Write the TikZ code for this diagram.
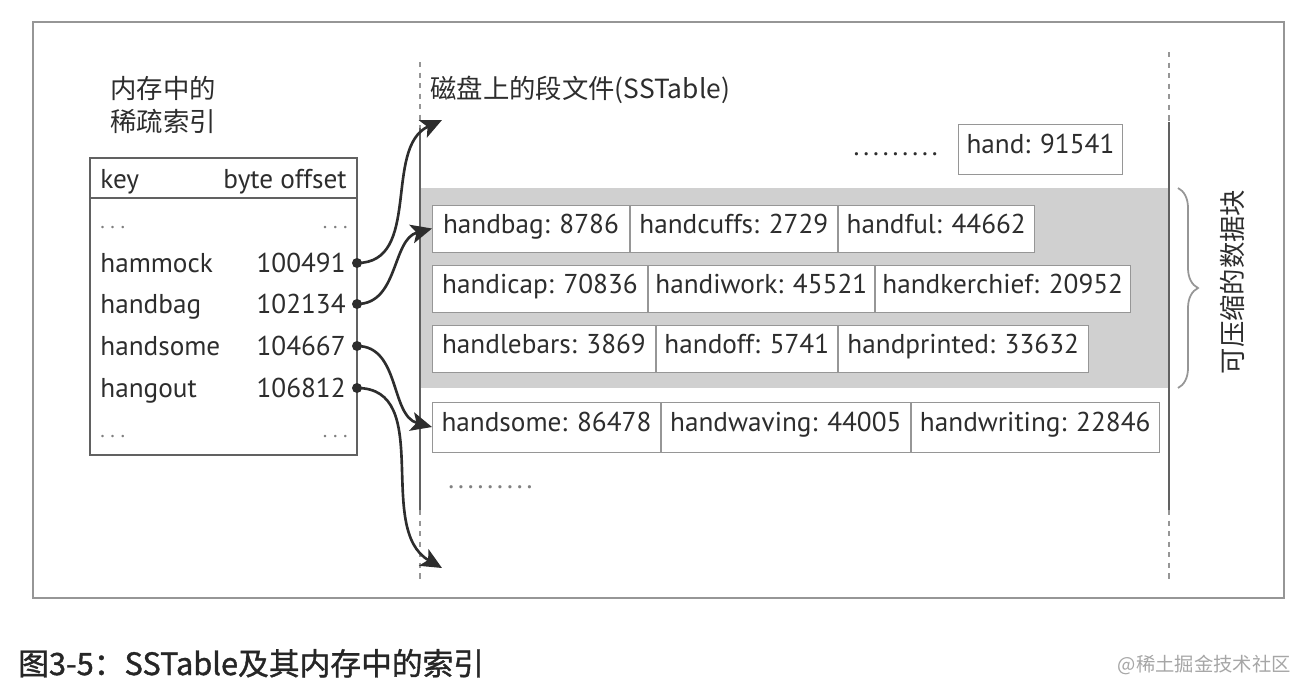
\documentclass[tikz,border=0pt]{standalone}
\usepackage{fontspec}
\setmainfont{PT Sans}
\newfontfamily\cjk{Noto Sans CJK SC}
\newfontfamily\cjkcap{Noto Sans CJK SC}[FakeBold=1.2]
\usetikzlibrary{arrows.meta,positioning,decorations.pathreplacing}
\definecolor{ink}{RGB}{45,45,45}
\definecolor{blockgray}{RGB}{208,208,208}
\definecolor{rulegray}{RGB}{150,150,150}

\begin{document}
\begin{tikzpicture}[
  txt/.style={font=\fontsize{15.5}{18}\selectfont, text=ink, inner sep=0pt},
  zh/.style={font=\fontsize{15}{18}\selectfont\cjk, text=ink, inner sep=0pt},
  cell/.style={txt, draw=rulegray, line width=0.5pt, fill=white, minimum height=0.94cm, text height=0.75em, text depth=0.2em},
  ptr/.style={-{Stealth[length=0.42cm,width=0.38cm,inset=0.1cm]}, ink, line width=1.5pt},
  pin/.style={circle, fill=ink, inner sep=0pt, minimum size=0.2cm},
  gap/.style={txt, font=\fontsize{15.5}{18}\selectfont\addfontfeature{LetterSpace=8}},
  more/.style={txt, text=gray, font=\fontsize{12}{14}\selectfont\addfontfeature{LetterSpace=20}}
]
\useasboundingbox (0,0) rectangle (26.32,-13.76);
\draw[rulegray, line width=1.2pt] (0.66,-0.44) rectangle (25.68,-11.96);

% compressed blocks
\fill[blockgray] (8.40,-3.76) rectangle (23.40,-7.76);
\node[cell, minimum width=3.94cm, anchor=west] (hb) at (8.64,-4.57) {handbag: 8786};
\node[cell, minimum width=4.14cm, right=0pt of hb] (hc) {handcuffs: 2729};
\node[cell, minimum width=3.92cm, right=0pt of hc] (hf) {handful: 44662};
\node[cell, minimum width=4.30cm, anchor=west] (hi) at (8.64,-5.77) {handicap: 70836};
\node[cell, minimum width=4.52cm, right=0pt of hi] (hw) {handiwork: 45521};
\node[cell, minimum width=5.10cm, right=0pt of hw] (hk) {handkerchief: 20952};
\node[cell, minimum width=4.46cm, anchor=west] (hl) at (8.64,-6.97) {handlebars: 3869};
\node[cell, minimum width=3.62cm, right=0pt of hl] (ho) {handoff: 5741};
\node[cell, minimum width=5.00cm, right=0pt of ho] (hp) {handprinted: 33632};
\node[cell, minimum width=4.56cm, minimum height=1.0cm, anchor=west] (hs) at (8.64,-8.54) {handsome: 86478};
\node[cell, minimum width=4.98cm, minimum height=1.0cm, right=0pt of hs] (hv) {handwaving: 44005};
\node[cell, minimum width=4.96cm, minimum height=1.0cm, right=0pt of hv] (hr) {handwriting: 22846};
\node[cell, minimum width=3.28cm, minimum height=1.0cm, anchor=west] (hand) at (19.16,-2.98) {hand: 91541};
\node[gap, anchor=base east] (gap1) at (18.76,-3.10) {.........};
\node[gap, anchor=base west, text=gray] (gap2) at (8.96,-9.76) {.........};

% segment file borders
\foreach \x/\top/\mid in {8.40/-1.24/-2.56, 23.38/-1.04/-2.44}{
    \draw[rulegray, dashed, line width=0.8pt] (\x,\top) -- (\x,\mid);
    \draw[ink!75, line width=0.8pt] (\x,\mid) -- (\x,-10.2);
    \draw[rulegray, dashed, line width=0.8pt] (\x,-10.2) -- (\x,-11.64);
}
\node[zh, anchor=base west] (disk) at (8.60,-1.96) {磁盘上的段文件(SSTable)};
\draw[decorate, decoration={brace, amplitude=0.4cm}, rulegray, line width=1pt] (23.56,-3.76) -- (23.56,-7.76);
\node[zh, rotate=90] (zip) at (24.64,-5.64) {可压缩的数据块};

% sparse index
\node[zh, anchor=base west] (mem1) at (2.2,-1.96) {内存中的};
\node[zh, anchor=base west] (mem2) at (2.2,-2.62) {稀疏索引};
\draw[ink!75, line width=0.9pt] (1.8,-3.16) rectangle (7.14,-9.10);
\draw[ink!75, line width=0.9pt] (1.8,-3.96) -- (7.14,-3.96);
\node[txt, anchor=base west] (key) at (2.0,-3.76) {key};
\node[txt, anchor=base east] (off) at (6.94,-3.76) {byte offset};
\foreach \y in {-4.56,-8.74}{
    \node[more, anchor=base west] at (2.0,\y) {...};
    \node[more, anchor=base east] at (6.96,\y) {...};
}
\foreach \k/\o/\y in {hammock/100491/-5.26, handbag/102134/-6.08, handsome/104667/-6.92, hangout/106812/-7.76}{
    \node[txt, anchor=base west] (k\o) at (2.0,\y-0.18) {\k};
    \node[txt, anchor=base east] (o\o) at (6.92,\y-0.18) {\o};
    \node[pin] (p\o) at (7.14,\y) {};
}
\coordinate (t1) at (8.84,-2.40);
\coordinate (t4) at (8.84,-11.36);
\draw[ptr] (p100491.center) to[out=0,in=205] (t1);
\draw[ptr] (p102134.center) to[out=0,in=195] (hb.west);
\draw[ptr] (p104667.center) to[out=0,in=165] (hs.west);
\draw[ptr] (p106812.center) to[out=0,in=150] (t4);

\node[anchor=base west, font=\fontsize{17.5}{20}\selectfont\cjkcap, text=black!85] (cap) at (0.24,-13.5) {图3-5：SSTable及其内存中的索引};
\node[anchor=base east, font=\fontsize{11}{13}\selectfont\cjk, text=gray!70] (mark) at (25.94,-13.42) {@稀土掘金技术社区};
\end{tikzpicture}
\end{document}
